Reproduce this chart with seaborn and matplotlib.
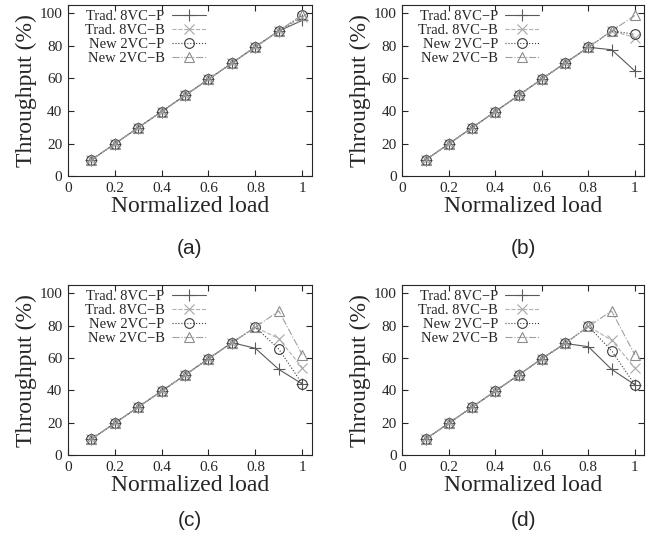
import numpy as np
import pandas as pd
import matplotlib
matplotlib.use('Agg')
import matplotlib.pyplot as plt
import seaborn as sns

# offered load (x axis)
load = [0.1, 0.2, 0.3, 0.4, 0.5, 0.6, 0.7, 0.8, 0.9, 1.0]

series_names = ['Trad. 8VC\u2212P', 'Trad. 8VC\u2212B', 'New 2VC\u2212P', 'New 2VC\u2212B']

# throughput (%), one list per series and panel
a_8p = [9.9, 19.8, 29.7, 39.6, 49.5, 59.4, 69.3, 79.3, 89.0, 95.5]
a_8b = [9.9, 19.8, 29.7, 39.6, 49.5, 59.4, 69.3, 79.3, 89.0, 97.5]
a_2p = [9.9, 19.8, 29.7, 39.6, 49.5, 59.4, 69.3, 79.3, 89.0, 98.5]
a_2b = [9.9, 19.8, 29.7, 39.6, 49.5, 59.4, 69.3, 79.3, 89.0, 99.0]

b_8p = [9.9, 19.8, 29.7, 39.6, 49.5, 59.6, 69.3, 79.0, 77.5, 64.5]
b_8b = [9.9, 19.8, 29.7, 39.6, 49.5, 59.6, 69.3, 79.0, 89.0, 85.0]
b_2p = [9.9, 19.8, 29.7, 39.6, 49.5, 59.6, 69.3, 79.0, 89.0, 87.0]
b_2b = [9.9, 19.8, 29.7, 39.6, 49.5, 59.6, 69.3, 79.0, 89.0, 98.5]

c_8p = [9.9, 19.8, 29.7, 39.6, 49.5, 59.6, 69.5, 66.0, 53.0, 44.0]
c_8b = [9.9, 19.8, 29.7, 39.6, 49.5, 59.6, 69.5, 79.0, 72.0, 54.0]
c_2p = [9.9, 19.8, 29.7, 39.6, 49.5, 59.6, 69.5, 79.0, 65.5, 44.0]
c_2b = [9.9, 19.8, 29.7, 39.6, 49.5, 59.6, 69.5, 79.0, 89.0, 62.0]

d_8p = [9.9, 19.8, 29.7, 39.6, 49.5, 59.6, 69.0, 67.0, 53.0, 43.5]
d_8b = [9.9, 19.8, 29.7, 39.6, 49.5, 59.6, 69.0, 79.5, 71.0, 54.0]
d_2p = [9.9, 19.8, 29.7, 39.6, 49.5, 59.6, 69.0, 79.5, 64.5, 43.5]
d_2b = [9.9, 19.8, 29.7, 39.6, 49.5, 59.6, 69.0, 79.5, 89.0, 62.0]

panels = {
    '(a)': [a_8p, a_8b, a_2p, a_2b],
    '(b)': [b_8p, b_8b, b_2p, b_2b],
    '(c)': [c_8p, c_8b, c_2p, c_2b],
    '(d)': [d_8p, d_8b, d_2p, d_2b],
}

styles = [
    dict(color='#5a5a5a', mec='#5a5a5a', linestyle='-', marker='+', markersize=8),
    dict(color='#b0b0b0', mec='#a8a8a8', linestyle='--', marker='x', markersize=6.5),
    dict(color='#3c3c3c', mec='#3c3c3c', linestyle=':', marker='o', markersize=7),
    dict(color='#a0a0a0', mec='#8c8c8c', linestyle='-.', marker='^', markersize=7),
]

sns.set_style('ticks')
plt.rcParams['font.family'] = ['Liberation Serif', 'DejaVu Serif']

fig = plt.figure(figsize=(6.52, 5.42), dpi=100)

boxes = {
    '(a)': [0.104, 0.675, 0.374, 0.316],
    '(b)': [0.617, 0.675, 0.371, 0.316],
    '(c)': [0.104, 0.160, 0.374, 0.314],
    '(d)': [0.617, 0.160, 0.371, 0.314],
}
caption_y = {'(a)': 0.524, '(b)': 0.524, '(c)': 0.022, '(d)': 0.022}

for key, vals in panels.items():
    ax = fig.add_axes(boxes[key])
    for name, y, st in zip(series_names, vals, styles):
        df = pd.DataFrame({'load': load, 'thr': y})
        sns.lineplot(data=df, x='load', y='thr', ax=ax, label=name, lw=0.8,
                     mfc='none', mew=0.8, **st)
    ax.set_xlim(0, 1.04)
    ax.set_ylim(0, 105)
    ax.set_xticks([0, 0.2, 0.4, 0.6, 0.8, 1])
    ax.set_xticklabels(['0', '0.2', '0.4', '0.6', '0.8', '1'])
    ax.set_yticks([0, 20, 40, 60, 80, 100])
    ax.tick_params(direction='in', top=True, right=True, labelsize=11, length=4, width=0.8, pad=4)
    for sp in ax.spines.values():
        sp.set_linewidth(0.8)
    ax.set_xlabel('Normalized load', fontsize=17, labelpad=1)
    ax.set_ylabel('Throughput (%)', fontsize=17, labelpad=2)
    leg = ax.legend(loc='upper right', frameon=False, markerfirst=False, fontsize=10.5,
                    handlelength=2.3, labelspacing=0.05, borderaxespad=0.0, borderpad=0.0,
                    handletextpad=0.5, bbox_to_anchor=(0.565, 0.97))
    cx = boxes[key][0] + boxes[key][2] / 2
    fig.text(cx, caption_y[key], key, ha='center', va='bottom', fontsize=15,
             family=['Liberation Sans', 'DejaVu Sans'])

fig.savefig('out.png', dpi=100)
